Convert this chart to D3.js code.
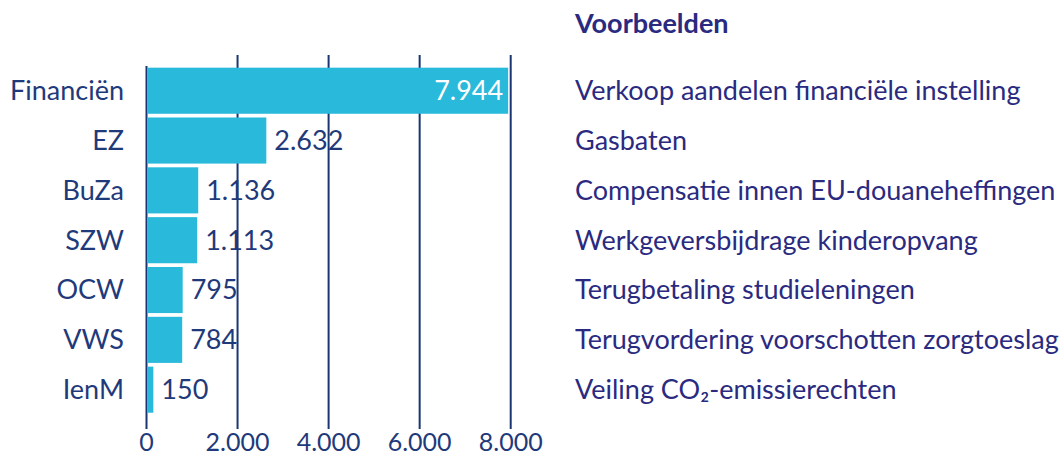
<!DOCTYPE html>
<html>
<head>
<meta charset="utf-8">
<script src="https://cdn.jsdelivr.net/npm/d3@7"></script>
<style>
	body { margin: 0; background: #fff; }
	svg text { font-family: Lato, "Open Sans", sans-serif; }
</style>
</head>
<body>
<div class="canvas"></div>
<script>
const departments = ["Financiën", "EZ", "BuZa", "SZW", "OCW", "VWS", "IenM"];
const amounts = [7944, 2632, 1136, 1113, 795, 784, 150];
const examples = [
	"Verkoop aandelen financiële instelling",
	"Gasbaten",
	"Compensatie innen EU-douaneheffingen",
	"Werkgeversbijdrage kinderopvang",
	"Terugbetaling studieleningen",
	"Terugvordering voorschotten zorgtoeslag",
	"Veiling CO₂-emissierechten",
];
const ticks = [0, 2000, 4000, 6000, 8000];

const dims = { width: 1062, height: 457 };
const navy = "#1f3a7a";
const purple = "#2a2a80";
const barColor = "#29b9da";
const fontSize = 27;
const fmt = (v) => d3.format(",")(v).replace(/,/g, ".");

const svg = d3
	.select(".canvas")
	.append("svg")
	.attr("width", dims.width)
	.attr("height", dims.height);

const x = d3.scaleLinear().domain([0, 8000]).range([146.5, 510.7]);
const y = d3
	.scaleBand()
	.domain(departments)
	.range([65.8, 414.6])
	.paddingInner(0.075)
	.paddingOuter(0.0375);

// gridlines
svg
	.append("g")
	.selectAll("line")
	.data(ticks)
	.join("line")
	.attr("x1", (d) => x(d))
	.attr("x2", (d) => x(d))
	.attr("y1", (d) => (d === 0 ? 66 : 55))
	.attr("y2", 429)
	.attr("stroke", "#1b3572")
	.attr("stroke-width", 2);

// tick labels
svg
	.append("g")
	.selectAll("text")
	.data(ticks)
	.join("text")
	.attr("x", (d) => x(d))
	.attr("y", 451)
	.attr("text-anchor", "middle")
	.attr("font-size", 25)
	.attr("fill", navy)
	.text(fmt);

const rows = departments.map((name, i) => ({
	name,
	value: amounts[i],
	example: examples[i],
}));

// bars
svg
	.append("g")
	.selectAll("rect")
	.data(rows)
	.join("rect")
	.attr("x", x(0) + 1)
	.attr("y", (d) => y(d.name))
	.attr("width", (d) => x(d.value) - x(0) - 1)
	.attr("height", y.bandwidth())
	.attr("fill", barColor);

// category labels
svg
	.append("g")
	.selectAll("text")
	.data(rows)
	.join("text")
	.attr("x", 124)
	.attr("y", (d) => y(d.name) + y.bandwidth() / 2)
	.attr("dy", "0.35em")
	.attr("text-anchor", "end")
	.attr("font-size", fontSize)
	.attr("fill", navy)
	.text((d) => d.name);

// value labels
svg
	.append("g")
	.selectAll("text")
	.data(rows)
	.join("text")
	.attr("x", (d) => (d.value > 5000 ? x(d.value) - 5 : x(d.value) + 8))
	.attr("y", (d) => y(d.name) + y.bandwidth() / 2)
	.attr("dy", "0.35em")
	.attr("text-anchor", (d) => (d.value > 5000 ? "end" : "start"))
	.attr("font-size", fontSize)
	.attr("fill", (d) => (d.value > 5000 ? "#fff" : navy))
	.text((d) => fmt(d.value));

// examples column
svg
	.append("text")
	.attr("x", 575)
	.attr("y", 24)
	.attr("dy", "0.35em")
	.attr("font-size", fontSize)
	.attr("font-weight", "bold")
	.attr("fill", purple)
	.text("Voorbeelden");

svg
	.append("g")
	.selectAll("text")
	.data(rows)
	.join("text")
	.attr("x", 575)
	.attr("y", (d) => y(d.name) + y.bandwidth() / 2)
	.attr("dy", "0.35em")
	.attr("font-size", fontSize)
	.attr("fill", purple)
	.text((d) => d.example);
</script>
</body>
</html>
